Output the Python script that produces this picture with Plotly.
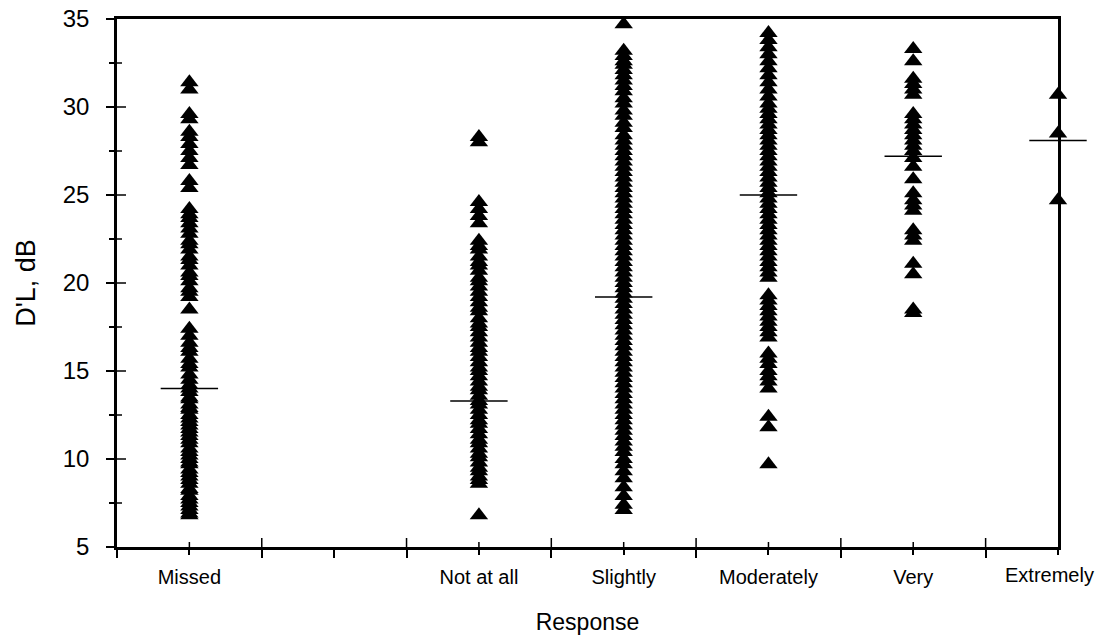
import plotly.graph_objects as go

# Category positions on the response axis (integer ticks bound each response bin)
categories = ["Missed", "Not at all", "Slightly", "Moderately", "Very", "Extremely"]
cat_pos = [0.5, 2.5, 3.5, 4.5, 5.5, 6.5]
x_bounds = [0, 1, 2, 3, 4, 5, 6]

# y-axis tick values
y_major = [5, 10, 15, 20, 25, 30, 35]
y_minor = [7.5, 12.5, 17.5, 22.5, 27.5, 32.5]

# D'L values (dB) per response category
missed = [31.4, 31.0, 29.6, 29.3, 28.6, 28.3, 27.9, 27.5, 27.1, 26.7, 25.8, 25.4,
          24.2, 23.9, 23.7, 23.4, 23.1, 22.8, 22.4, 22.2, 21.9, 21.5, 21.3, 21.0,
          20.6, 20.4, 20.1, 19.7, 19.5, 19.2, 18.5,
          17.4, 17.0, 16.6, 16.3, 16.1, 15.7, 15.4, 15.2, 14.8, 14.5, 14.2,
          14.0, 13.8, 13.5, 13.4, 13.1, 12.9, 12.8, 12.5, 12.3, 12.1, 11.9, 11.7,
          11.5, 11.3, 11.1, 10.9, 10.6, 10.4, 10.2, 10.0, 9.8, 9.7, 9.4, 9.2,
          9.0, 8.8, 8.6, 8.3, 8.2, 7.9, 7.7, 7.5, 7.3, 7.1, 6.9, 6.8]
not_at_all = [28.3, 28.0, 24.6, 24.2, 23.8, 23.4,
              22.4, 22.1, 21.9, 21.5, 21.2, 21.0, 20.7, 20.3, 20.1, 19.8, 19.5,
              19.2, 18.9, 18.6, 18.4, 18.0, 17.7, 17.5, 17.2, 16.9, 16.6, 16.3,
              16.1, 15.8, 15.5, 15.2, 15.0, 14.7, 14.4, 14.1, 13.9, 13.6, 13.3,
              13.1, 12.8, 12.5, 12.2, 12.0, 11.7, 11.4, 11.1, 10.9, 10.6, 10.3,
              10.1, 9.8, 9.5, 9.3, 9.0, 8.8, 8.6, 6.8]
slightly = [34.7, 33.2, 32.9, 32.6, 32.4, 32.1, 31.8, 31.5, 31.2, 30.9, 30.5,
            30.2, 29.8, 29.5, 29.1, 28.8, 28.4, 28.1, 27.8, 27.5, 27.2, 26.9,
            26.6, 26.3, 26.0, 25.7, 25.4, 25.1, 24.8, 24.5, 24.2, 23.9, 23.6,
            23.3, 23.0, 22.7, 22.4, 22.1, 21.8, 21.5, 21.2, 20.9, 20.6, 20.3,
            20.0, 19.7, 19.4, 19.1, 18.8, 18.5, 18.2, 17.9, 17.6, 17.3, 17.0,
            16.7, 16.4, 16.1, 15.8, 15.5, 15.2, 14.9, 14.6, 14.3, 14.0, 13.7,
            13.4, 13.1, 12.8, 12.5, 12.2, 11.9, 11.6, 11.3, 11.0, 10.7, 10.4,
            10.0, 9.7, 9.3, 8.9, 8.4, 7.9, 7.4, 7.1]
moderately = [34.2, 33.8, 33.4, 33.0, 32.6, 32.2, 31.8, 31.4, 31.0, 30.6, 30.2,
              29.9, 29.6, 29.3, 29.0, 28.7, 28.4, 28.1, 27.8, 27.5, 27.2, 26.9,
              26.6, 26.3, 26.0, 25.7, 25.4, 25.1, 24.8, 24.5, 24.2, 23.9, 23.6,
              23.3, 23.0, 22.7, 22.4, 22.1, 21.8, 21.5, 21.2, 20.9, 20.6, 20.3,
              19.3, 19.0, 18.7, 18.4, 18.1, 17.8, 17.5, 17.2, 16.9,
              16.0, 15.7, 15.4, 15.0, 14.7, 14.4, 14.0,
              12.4, 11.8, 9.7]
very = [33.3, 32.6, 31.6, 31.3, 31.0, 30.7, 29.6, 29.3, 29.0, 28.7, 28.4,
        28.1, 27.8, 27.5, 27.1, 26.6, 25.9, 25.1, 24.7, 24.4, 24.1, 23.0,
        22.7, 22.4, 21.1, 20.5, 18.5, 18.3]
extremely = [30.7, 28.5, 24.7]

# Mean D'L for each category (short horizontal bars)
means = [14.0, 13.3, 19.2, 25.0, 27.2, 28.1]

series = [missed, not_at_all, slightly, moderately, very, extremely]

FONT = "Arial, 'Liberation Sans', Arimo, sans-serif"
CAT_SIZE = 20

fig = go.Figure()

for pos, vals in zip(cat_pos, series):
    fig.add_trace(go.Scatter(
        x=[pos] * len(vals), y=vals, mode="markers",
        marker=dict(symbol="triangle-up", size=16, color="black",
                    line=dict(width=0)),
        cliponaxis=False, showlegend=False, hoverinfo="y",
    ))

fig.add_trace(go.Scatter(
    x=cat_pos, y=means, mode="markers",
    marker=dict(symbol="line-ew", size=41, color="black",
                line=dict(width=1.5, color="black")),
    cliponaxis=False, showlegend=False, hoverinfo="y",
))

x_range = [0, 6.5]
y_range = [5, 35]
tick_col = "black"


def inner_xtick(v, length):
    # upward half of a crossing tick on the bottom axis
    return dict(type="line", xref="x", yref="paper", ysizemode="pixel",
                yanchor=0, x0=v, x1=v, y0=0, y1=length,
                line=dict(color=tick_col, width=1.5), layer="above")


def inner_ytick(v, length):
    # rightward half of a crossing tick on the left axis
    return dict(type="line", yref="y", xref="paper", xsizemode="pixel",
                xanchor=0, y0=v, y1=v, x0=0, x1=length,
                line=dict(color=tick_col, width=1.5), layer="above")


shapes = ([inner_xtick(v, 9) for v in x_bounds[1:]]
          + [inner_xtick(v, 5) for v in cat_pos[:-1]]
          + [inner_ytick(v, 9) for v in y_major[1:-1]]
          + [inner_ytick(v, 5) for v in y_minor])

# The rightmost category sits on the frame edge; its label is placed as an
# annotation so it can be nudged to stay inside the page
tick_text = categories[:-1] + [""]

fig.update_layout(
    width=1096, height=639,
    margin=dict(l=117, r=38, t=19, b=92, autoexpand=False),
    paper_bgcolor="white", plot_bgcolor="white",
    font=dict(family=FONT, color="black"),
    xaxis=dict(
        automargin=False,
        range=x_range, showgrid=False, zeroline=False,
        showline=True, linecolor="black", linewidth=2.5, mirror=True,
        tickmode="array", tickvals=cat_pos, ticktext=tick_text,
        ticks="outside", ticklen=5, tickwidth=1.5, tickcolor=tick_col,
        minor=dict(tickmode="array", tickvals=x_bounds + [1.5],
                   ticks="outside", ticklen=8, tickwidth=1.5, tickcolor=tick_col),
        tickfont=dict(size=CAT_SIZE, family=FONT),
        ticklabelstandoff=5,
        title=dict(text="Response", font=dict(size=23, family=FONT), standoff=28),
    ),
    yaxis=dict(
        automargin=False,
        range=y_range, showgrid=False, zeroline=False,
        showline=True, linecolor="black", linewidth=2.5, mirror=True,
        tickmode="array", tickvals=y_major,
        ticks="outside", ticklen=8, tickwidth=1.5, tickcolor=tick_col,
        minor=dict(tickmode="array", tickvals=y_minor,
                   ticks="outside", ticklen=5, tickwidth=1.5, tickcolor=tick_col),
        tickfont=dict(size=24, family=FONT),
        ticklabelstandoff=12,
        title=dict(text="D'L, dB", font=dict(size=27, family=FONT), standoff=20),
    ),
    shapes=shapes,
    annotations=[dict(
        text=categories[-1], x=cat_pos[-1], xref="x", y=0, yref="paper",
        xanchor="center", yanchor="top", yshift=-15, xshift=-9,
        showarrow=False, font=dict(size=CAT_SIZE, family=FONT, color="black"),
    )],
)

fig.write_html("out.html")
